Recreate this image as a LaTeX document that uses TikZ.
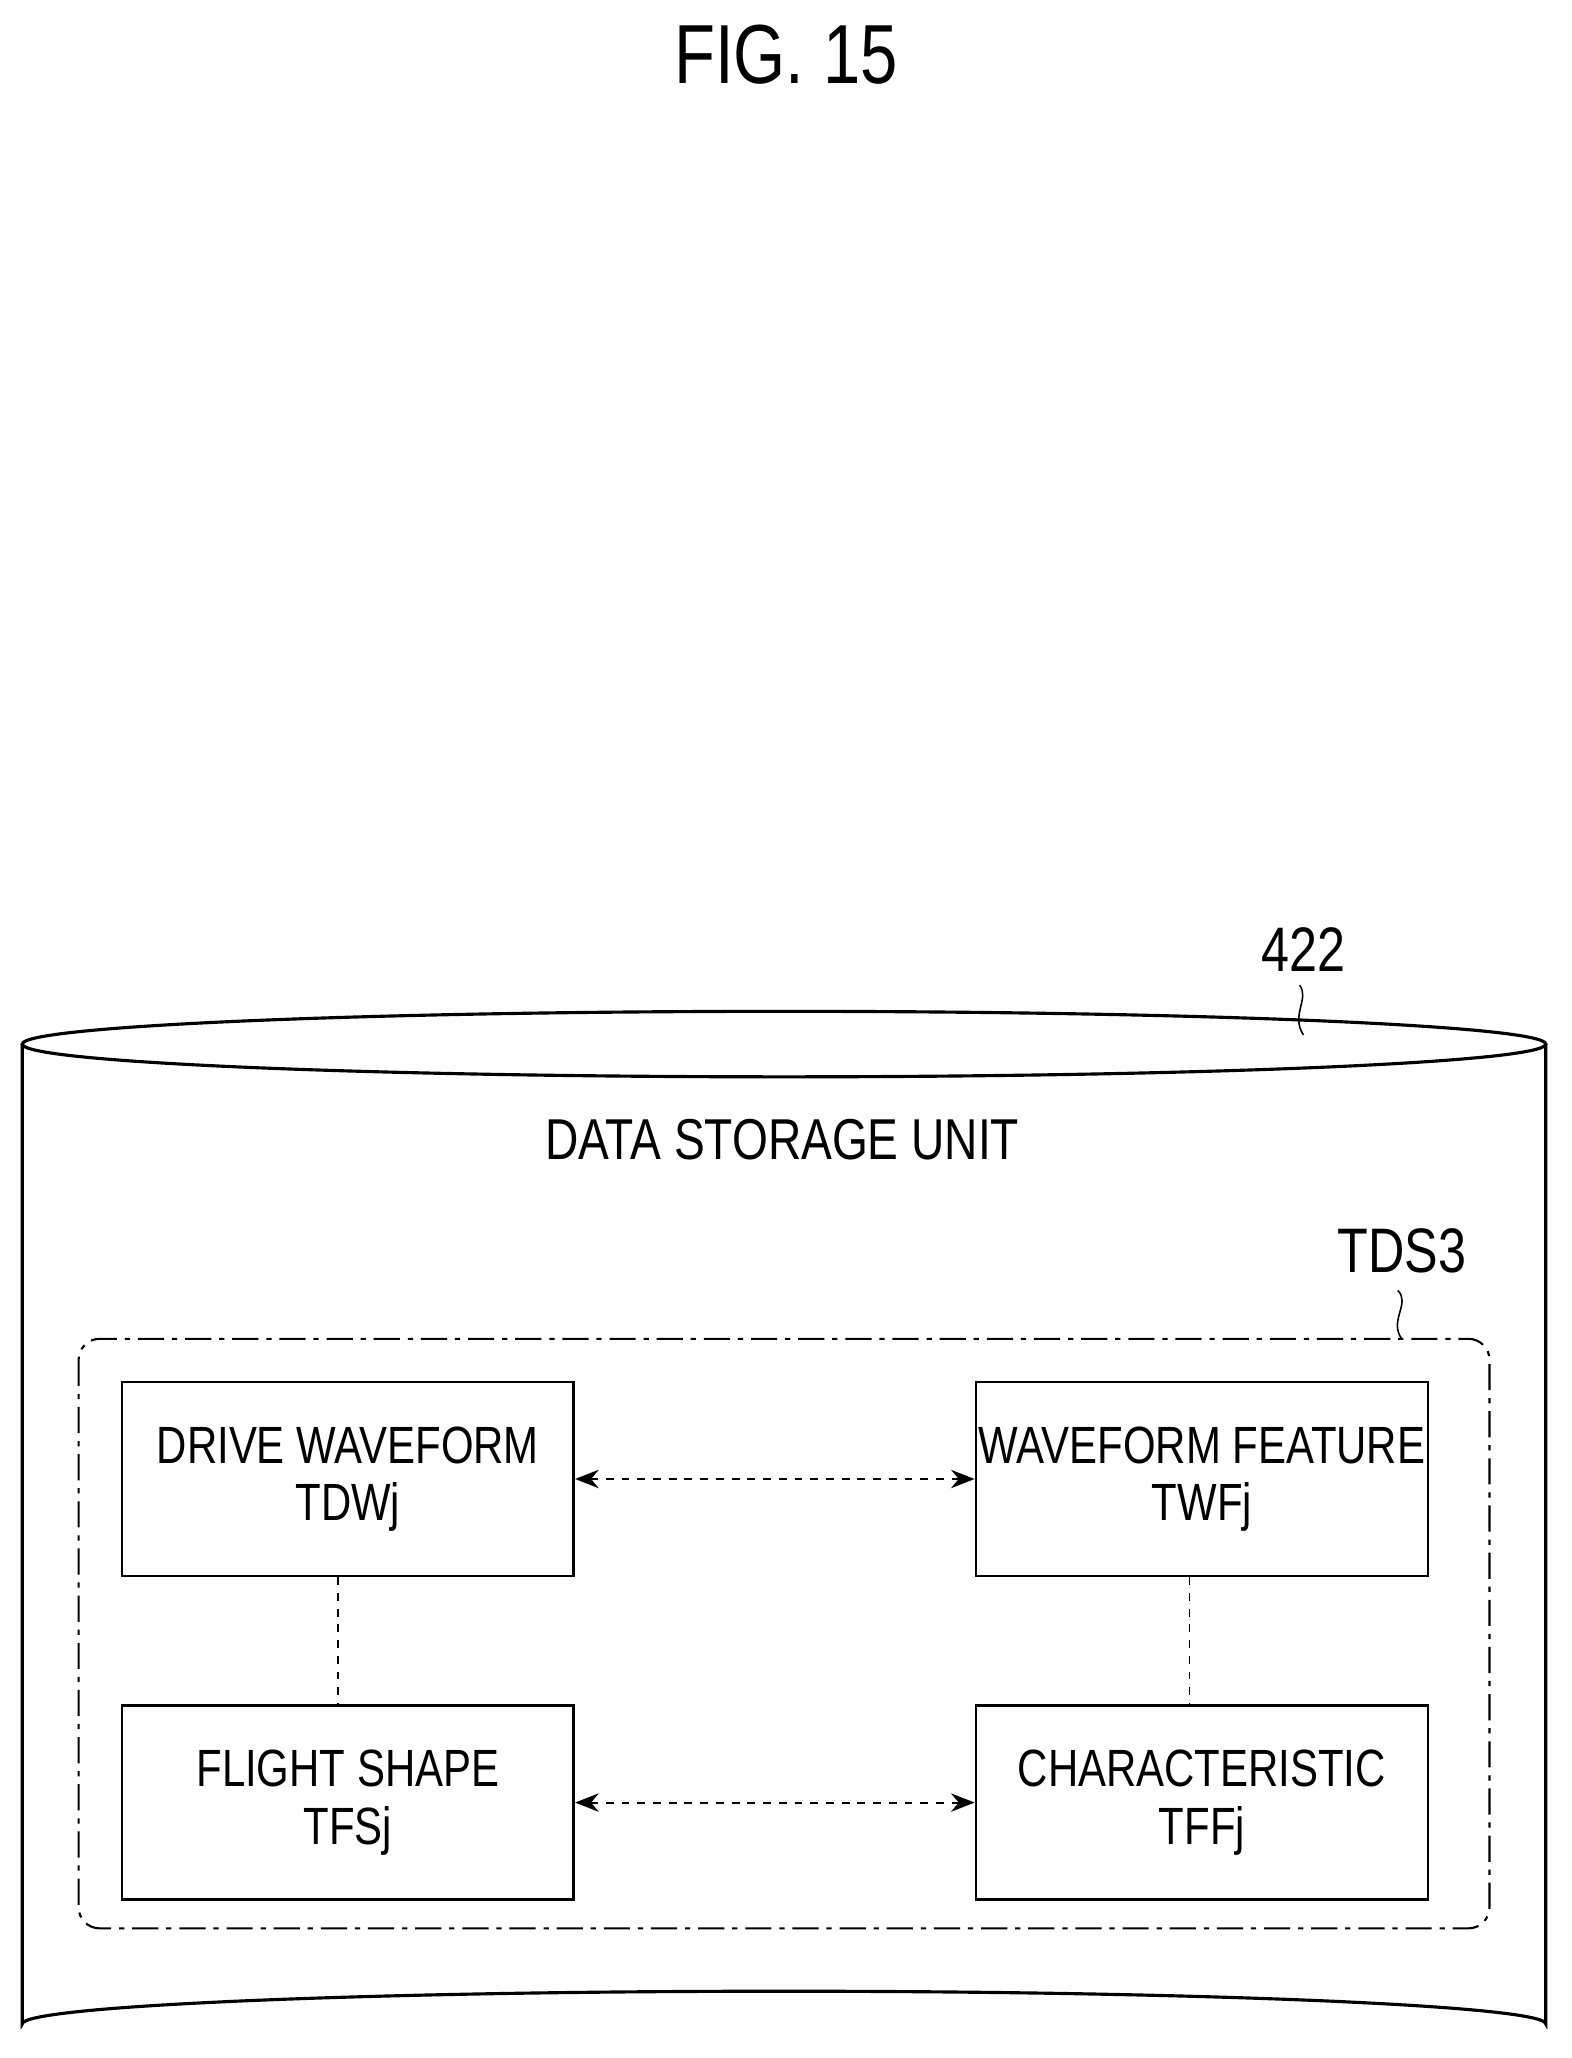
\documentclass[tikz,border=0pt]{standalone}
\usepackage{fontspec}
\setmainfont{Liberation Sans}[FakeStretch=0.8]
\usetikzlibrary{arrows.meta}
\tikzset{
  databox/.style={draw, line width=1pt, inner sep=0pt, minimum width=172.5pt, minimum height=74pt, align=center, font=\fontsize{20}{22}\selectfont},
  linkarrow/.style={dashed, line width=0.8pt, {Stealth[length=9pt,width=7pt]}-{Stealth[length=9pt,width=7pt]}},
  linkline/.style={dashed, line width=0.6pt}
}
\begin{document}
\begin{tikzpicture}[x=0.5pt,y=0.5pt,yscale=-1,xscale=1]
\useasboundingbox (0,0) rectangle (1200,1571);

% Title
\node (title) at (600,42) {\fontsize{32}{34}\selectfont FIG. 15};

% Cylinder
\draw [line width=1.2pt] (17,797) -- (17,1545) arc [start angle=180, end angle=360, x radius=581.5, y radius=25] -- (1180,797);
\draw [line width=1.2pt] (598.5,797) ellipse [x radius=581.5, y radius=25];
\node (unitref) at (995,725) {\fontsize{24}{26}\selectfont 422};
\draw [line width=0.6pt] (992,752) .. controls (1000,762) and (985,775) .. (995,790);
\node (unit) at (597,870) {\fontsize{22}{24}\selectfont DATA STORAGE UNIT};

% Dash-dot group
\draw [line width=0.8pt, dash pattern=on 10pt off 3pt on 2pt off 3pt, rounded corners=8pt] (60,1022) rectangle (1137,1472);
\node (groupref) at (1070,955) {\fontsize{24}{26}\selectfont TDS3};
\draw [line width=0.6pt] (1067,985) .. controls (1077,995) and (1060,1008) .. (1070,1022);

% Boxes
\node [databox] (dw) at (265.5,1129) {DRIVE WAVEFORM\\TDWj};
\node [databox] (wf) at (917.5,1129) {WAVEFORM FEATURE\\TWFj};
\node [databox] (fs) at (265.5,1376) {FLIGHT SHAPE\\TFSj};
\node [databox] (ch) at (917.5,1376) {CHARACTERISTIC\\TFFj};

% Connections
\draw [linkarrow] (dw.east) -- (wf.west);
\draw [linkarrow] (fs.east) -- (ch.west);
\draw [linkline] (dw.south -| 258,0) -- (fs.north -| 258,0);
\draw [linkline] (wf.south -| 908,0) -- (ch.north -| 908,0);

\end{tikzpicture}
\end{document}
